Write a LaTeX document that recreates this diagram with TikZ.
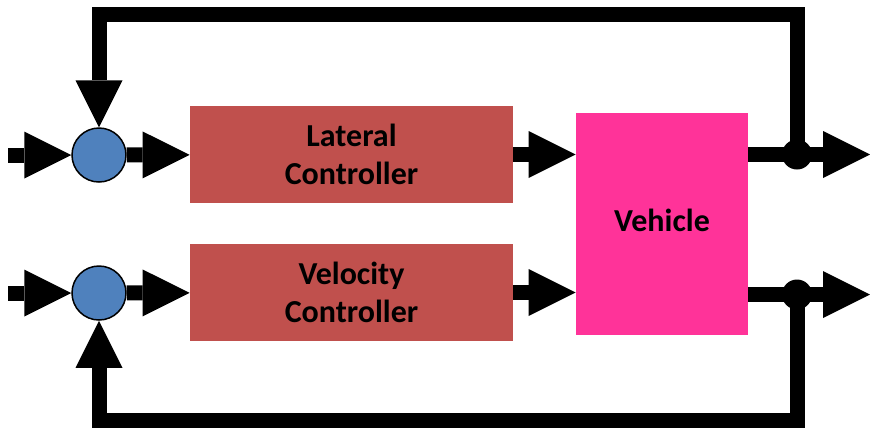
\documentclass[tikz,border=0pt]{standalone}
\usepackage{fontspec}
\setmainfont{Carlito}
\usetikzlibrary{arrows.meta}

\definecolor{ctrlred}{HTML}{C0504D}
\definecolor{vehpink}{HTML}{FF3399}
\definecolor{sumblue}{HTML}{4F81BD}

\newcommand{\pxu}[0]{0.5pt}

\begin{document}
\begin{tikzpicture}[x=\pxu, y=-\pxu,
  wire/.style={line width=7.5pt},
  sig/.style={wire, -{Triangle[length=23.5pt, width=23.5pt, line width=0pt]}},
  ctrlbox/.style={fill=ctrlred, minimum width=161.5pt, minimum height=48.5pt, inner sep=0pt,
    align=center, font=\bfseries\fontsize{16}{19}\selectfont},
  sumnode/.style={circle, draw=black, line width=0.75pt, fill=sumblue, minimum size=27pt, inner sep=0pt},
  dotnode/.style={circle, fill=black, minimum size=15pt, inner sep=0pt}]

\useasboundingbox (0,0) rectangle (870,430);

\node[sumnode] (sum1) at (99,155) {};
\node[sumnode] (sum2) at (99,293) {};

\node[ctrlbox] (lat) at (351.5,154.5) {Lateral\\Controller};
\node[ctrlbox] (vel) at (351.5,292.5) {Velocity\\Controller};

\node[fill=vehpink, minimum width=86pt, minimum height=111pt, inner sep=0pt, text depth=4pt,
  font=\bfseries\fontsize{16}{19}\selectfont] (veh) at (662,224) {Vehicle};

\coordinate (in1) at (8,155);
\coordinate (in2) at (8,293);
\coordinate (out1) at (870,154.5);
\coordinate (out2) at (870,294.5);
\coordinate (top1) at (797,14.5);
\coordinate (bot2) at (797,420.5);

% inputs
\draw[sig] (in1) -- (sum1);
\draw[sig] (in2) -- (sum2);
\draw[sig] (sum1) -- (lat);
\draw[sig] (sum2) -- (vel);

% controllers to vehicle
\draw[sig] (lat.east) -- (lat.east -| veh.west);
\draw[sig] (vel.east) -- (vel.east -| veh.west);

% outputs
\draw[sig] (veh.east |- out1) -- (out1);
\draw[sig] (veh.east |- out2) -- (out2);
\node[dotnode] (jn1) at (797,154.5) {};
\node[dotnode] (jn2) at (797,294.5) {};

% feedback loops
\draw[sig] (jn1.center) -- (top1) -| (sum1);
\draw[sig] (jn2.center) -- (bot2) -| (sum2);

\end{tikzpicture}
\end{document}
